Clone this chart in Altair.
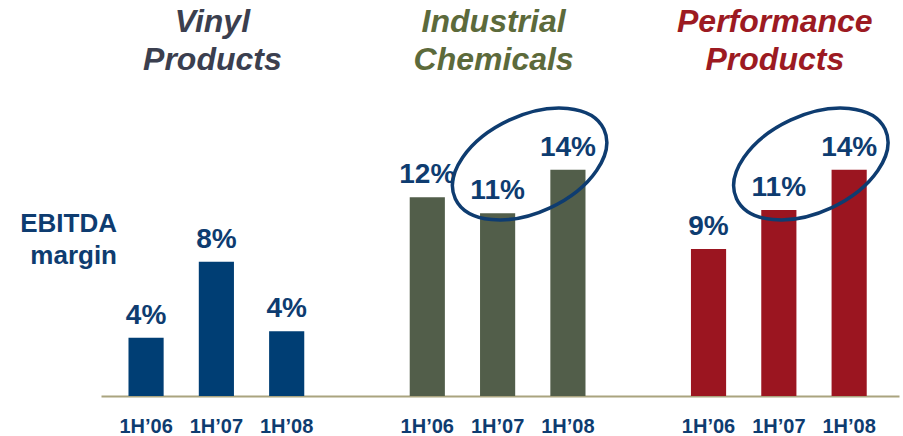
import altair as alt
import pandas as pd

# ---------------- data ----------------
groups = ["Vinyl Products", "Industrial Chemicals", "Performance Products"]
group_titles = ["Vinyl\nProducts", "Industrial\nChemicals", "Performance\nProducts"]
periods = ["1H’06", "1H’07", "1H’08"]
vinyl = [3.6, 8.3, 4.0]
industrial = [12.3, 11.3, 14.0]
performance = [9.1, 11.5, 14.0]
vinyl_labels = ["4%", "8%", "4%"]
industrial_labels = ["12%", "11%", "14%"]
performance_labels = ["9%", "11%", "14%"]
highlight_groups = ["Industrial Chemicals", "Performance Products"]
highlight_period = "1H’07"
y_label = "EBITDA\nmargin"

# ---------------- styles ----------------
FONT = "Liberation Sans"
NAVY = "#0e3c70"
bar_colors = ["#003e74", "#525e4a", "#9b1520"]
title_colors = ["#3b3f4f", "#5c6a3b", "#9c1a22"]
AXIS_COLOR = "#aaa47f"

values = [vinyl, industrial, performance]
labels = [vinyl_labels, industrial_labels, performance_labels]

rows = []
slots = []
for gi, g in enumerate(groups):
    for pi, p in enumerate(periods):
        key = f"{g}|{p}"
        slots.append(key)
        rows.append({"group": g, "period": p, "slot": key,
                     "value": values[gi][pi], "label": labels[gi][pi]})
    if gi < len(groups) - 1:
        slots.append(f"gap|{gi}")
df = pd.DataFrame(rows)

titles_df = pd.DataFrame({
    "tgroup": groups,
    "title": group_titles,
    "slot": [f"{g}|{periods[1]}" for g in groups],
})
hl_df = pd.DataFrame({"slot": [f"{g}|{highlight_period}" for g in highlight_groups]})
ylab_df = pd.DataFrame({"t": [y_label]})

x_scale = alt.Scale(domain=slots, paddingInner=0.5, paddingOuter=0.425, align=0.46)

x_enc = alt.X(
    "slot:N",
    scale=x_scale,
    axis=alt.Axis(
        title=None,
        labelExpr="split(datum.label, '|')[0] == 'gap' ? '' : split(datum.label, '|')[1]",
        labelFont=FONT, labelFontSize=20, labelFontWeight="bold", labelColor=NAVY,
        labelPadding=20, labelAngle=0, ticks=False, grid=False,
        domainColor=AXIS_COLOR, domainWidth=2,
    ),
)
y_enc = alt.Y("value:Q", scale=alt.Scale(domain=[0, 24.5]), axis=None)

bars = alt.Chart(df).mark_bar().encode(
    x=x_enc, y=y_enc,
    color=alt.Color("group:N", scale=alt.Scale(domain=groups, range=bar_colors), legend=None),
)

value_text = alt.Chart(df).mark_text(
    font=FONT, fontSize=28, fontWeight="bold", color=NAVY,
    baseline="alphabetic", dy=-14,
).encode(x=x_enc, y=y_enc, text="label:N")

title_text = alt.Chart(titles_df).mark_text(
    font=FONT, fontSize=32, fontWeight="bold", fontStyle="italic",
    lineBreak="\n", lineHeight=38, baseline="alphabetic", dx=-4,
).encode(
    x=alt.X("slot:N", scale=x_scale),
    y=alt.value(32),
    text="title:N",
    color=alt.Color("tgroup:N", scale=alt.Scale(domain=groups, range=title_colors), legend=None),
)

ylab_text = alt.Chart(ylab_df).mark_text(
    font=FONT, fontSize=26, fontWeight="bold", color=NAVY,
    lineBreak="\n", lineHeight=32, align="right", baseline="alphabetic",
).encode(x=alt.value(16), y=alt.value(232), text="t:N")

r = 0.59
k = 0.5523 * r
ellipse_path = (
    f"M 1 0 C 1 {k:.4f} 0.5523 {r} 0 {r} "
    f"C -0.5523 {r} -1 {k:.4f} -1 0 "
    f"C -1 {-k:.4f} -0.5523 {-r} 0 {-r} "
    f"C 0.5523 {-r} 1 {-k:.4f} 1 0 Z"
)

ellipses = alt.Chart(hl_df).mark_point(
    shape=ellipse_path, size=164 * 164, filled=False, color=NAVY,
    strokeWidth=3.5, angle=335, opacity=1, xOffset=32,
).encode(
    x=alt.X("slot:N", scale=x_scale),
    y=alt.value(164),
)

chart = (
    alt.layer(bars, value_text, title_text, ylab_text, ellipses)
    .resolve_scale(color="independent")
    .properties(
        width=798, height=396,
        padding={"left": 101, "right": 4, "top": 0, "bottom": 40},
        autosize=alt.AutoSizeParams(type="none"),
        background="white",
    )
    .configure_view(strokeWidth=0)
)

chart.save("out.html", embed_options={"renderer": "svg", "actions": False})
